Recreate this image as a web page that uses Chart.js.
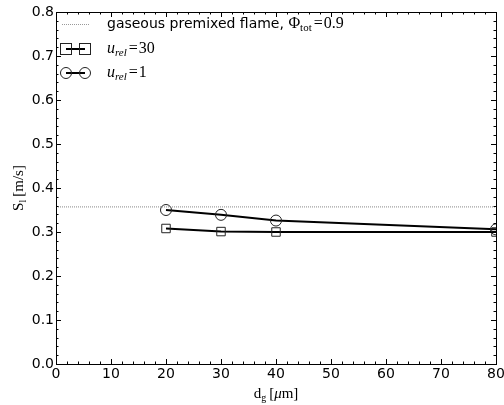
<!DOCTYPE html>
<html><head><meta charset="utf-8">
<script src="https://cdn.jsdelivr.net/npm/chart.js@4/dist/chart.umd.min.js"></script>
<style>html,body{margin:0;padding:0;background:#fff}#wrap{width:504px;height:405px}</style>
</head><body><div id="wrap"><canvas id="c" width="504" height="405"></canvas></div>
<script>
const diameters = [20, 30, 40, 80];
const urel30 = [0.308, 0.301, 0.300, 0.300];
const urel1 = [0.350, 0.339, 0.326, 0.306];
const gasX = [0, 80];
const gasY = [0.357, 0.357];
const xTicks = [0, 10, 20, 30, 40, 50, 60, 70, 80];
const yTicks = [0.0, 0.1, 0.2, 0.3, 0.4, 0.5, 0.6, 0.7, 0.8];

const SANS = '"DejaVu Sans", sans-serif';
const SERIF = '"Liberation Serif", "DejaVu Serif", serif';

function pts(xs, ys){ return xs.map((x,i)=>({x:x, y:ys[i]})); }

function drawRuns(ctx, runs, x, y){
  let cx = x;
  for (const r of runs){
    if (typeof r === 'number'){ cx += r; continue; }
    ctx.font = r[1];
    ctx.fillText(r[0], cx, y + (r[2]||0));
    cx += ctx.measureText(r[0]).width;
  }
  return cx - x;
}
function runsWidth(ctx, runs){
  let w=0; for(const r of runs){ if (typeof r === 'number'){w+=r;continue;} ctx.font=r[1]; w+=ctx.measureText(r[0]).width;} return w;
}

const decor = {
  id: 'decor',
  afterDraw(chart){
    const ctx = chart.ctx, a = chart.chartArea;
    const xs = chart.scales.x, ys = chart.scales.y;
    ctx.save();
    ctx.strokeStyle = '#000'; ctx.lineWidth = 1;
    ctx.strokeRect(Math.round(a.left)+0.5, Math.round(a.top)+0.5, Math.round(a.right-a.left), Math.round(a.bottom-a.top));
    ctx.beginPath();
    for (let v = 0; v <= 80.001; v += 2){
      const px = Math.round(xs.getPixelForValue(v)) + 0.5;
      const major = Math.abs(v/10 - Math.round(v/10)) < 1e-6;
      const L = major ? 5 : 2.5;
      ctx.moveTo(px, a.bottom); ctx.lineTo(px, a.bottom - L);
      ctx.moveTo(px, a.top); ctx.lineTo(px, a.top + L);
    }
    for (let i = 0; i <= 40; i++){
      const v = i*0.02;
      const py = Math.round(ys.getPixelForValue(v)) + 0.5;
      const L = (i % 5 === 0) ? 5 : 2.5;
      ctx.moveTo(a.left, py); ctx.lineTo(a.left + L, py);
      ctx.moveTo(a.right, py); ctx.lineTo(a.right - L, py);
    }
    ctx.stroke();
    ctx.fillStyle = '#000';
    ctx.font = '14px ' + SANS;
    ctx.textAlign = 'center'; ctx.textBaseline = 'top';
    for (const v of xTicks){
      ctx.fillText(String(v), xs.getPixelForValue(v), a.bottom + 3);
    }
    ctx.textAlign = 'right'; ctx.textBaseline = 'middle';
    for (const v of yTicks){
      ctx.fillText(v.toFixed(1), a.left - 2, ys.getPixelForValue(v));
    }
    ctx.textAlign = 'left'; ctx.textBaseline = 'alphabetic';
    const xr = [['d', '15px '+SERIF], ['g', '10px '+SERIF, 3], 3, ['[', '15px '+SERIF], ['μ', 'italic 15px '+SERIF], ['m]', '15px '+SERIF]];
    const xw = runsWidth(ctx, xr);
    drawRuns(ctx, xr, (a.left + a.right)/2 - xw/2, 398);
    ctx.save();
    ctx.translate(23, (a.top + a.bottom)/2);
    ctx.rotate(-Math.PI/2);
    const yr = [['S', '15px '+SERIF], ['l', '10px '+SERIF, 3], 3, ['[m/s]', '15px '+SERIF]];
    const yw = runsWidth(ctx, yr);
    drawRuns(ctx, yr, -yw/2, 0);
    ctx.restore();
    // legend
    const lx0 = a.left + 6, lx1 = a.left + 33, tx = a.left + 51;
    const r1 = a.top + 12, r2 = a.top + 37, r3 = a.top + 61;
    ctx.strokeStyle = '#999'; ctx.lineWidth = 1; ctx.setLineDash([1, 1]);
    ctx.beginPath(); ctx.moveTo(lx0, r1+0.5); ctx.lineTo(lx1, r1+0.5); ctx.stroke();
    ctx.setLineDash([]);
    ctx.strokeStyle = '#000'; ctx.lineWidth = 2;
    ctx.beginPath(); ctx.moveTo(lx0+4, r2); ctx.lineTo(lx1-4, r2); ctx.moveTo(lx0+4, r3); ctx.lineTo(lx1-4, r3); ctx.stroke();
    ctx.lineWidth = 1; ctx.strokeStyle = '#222';
    for (const cx of [lx0+4, lx1-4]){
      ctx.strokeRect(cx-5.5, r2-5.5, 11, 11);
      ctx.beginPath(); ctx.arc(cx, r3, 5.5, 0, Math.PI*2); ctx.stroke();
    }
    ctx.textBaseline = 'middle';
    drawRuns(ctx, [['gaseous premixed flame, ', '14px '+SANS], ['Φ', '16px '+SERIF], ['tot', '11px '+SERIF, 4], 2, ['=', '16px '+SERIF], 1, ['0.9', '16px '+SERIF]], tx, r1);
    drawRuns(ctx, [['u', 'italic 16px '+SERIF], ['rel', 'italic 11px '+SERIF, 4], 2, ['=', '16px '+SERIF], 1, ['30', '16px '+SERIF]], tx, r2);
    drawRuns(ctx, [['u', 'italic 16px '+SERIF], ['rel', 'italic 11px '+SERIF, 4], 2, ['=', '16px '+SERIF], 1, ['1', '16px '+SERIF]], tx, r3);
    ctx.restore();
  }
};

new Chart(document.getElementById('c'), {
  type: 'line',
  data: {
    datasets: [
      { label: 'gas', data: pts(gasX, gasY), borderColor: '#888', borderWidth: 1, borderDash: [1,1], pointRadius: 0, fill: false, clip: 0 },
      { label: 'u30', data: pts(diameters, urel30), borderColor: '#000', borderWidth: 2, pointStyle: 'rect', pointRadius: 6, pointBorderColor: '#222', pointBorderWidth: 1, pointBackgroundColor: 'rgba(0,0,0,0)', fill: false, tension: 0, clip: 0 },
      { label: 'u1', data: pts(diameters, urel1), borderColor: '#000', borderWidth: 2, pointStyle: 'circle', pointRadius: 5.5, pointBorderColor: '#222', pointBorderWidth: 1, pointBackgroundColor: 'rgba(0,0,0,0)', fill: false, tension: 0, clip: 0 }
    ]
  },
  options: {
    responsive: false, animation: false,
    layout: { padding: { left: 56, right: 8, top: 12, bottom: 41 } },
    plugins: { legend: { display: false }, tooltip: { enabled: false } },
    scales: {
      x: { type: 'linear', min: 0, max: 80, display: false },
      y: { type: 'linear', min: 0, max: 0.8, display: false }
    }
  },
  plugins: [decor]
});
</script></body></html>
